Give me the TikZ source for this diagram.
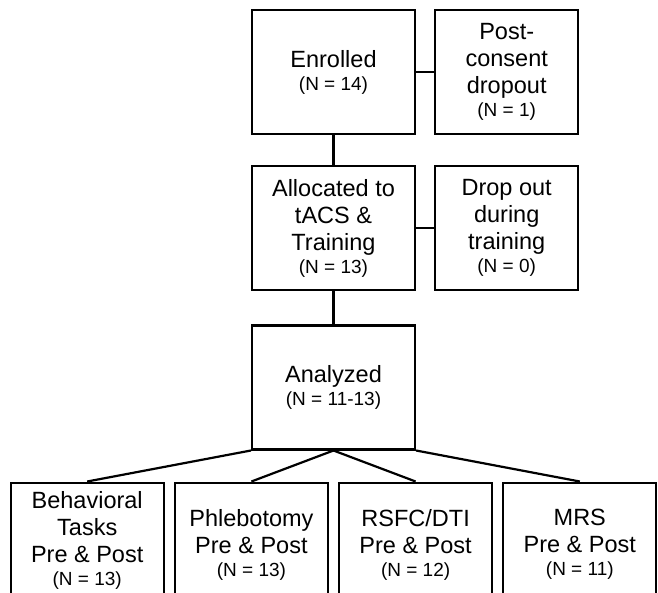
\documentclass[tikz,border=0pt]{standalone}
\usepackage{fontspec}
\setmainfont{Liberation Sans}
\usepackage{tikz}
\usetikzlibrary{positioning}
\newcommand{\nval}[1]{{\fontsize{19}{22}\selectfont (N = #1)}}

\begin{document}
\begin{tikzpicture}[node distance=18pt, line width=2.2pt,
    font=\fontsize{23.5}{27}\selectfont,
    box/.style={draw,minimum width=163pt,minimum height=124pt,align=center,inner sep=0pt},
    side/.style={box,minimum width=143pt},
    leaf/.style={box,minimum width=153pt}]
    \useasboundingbox (0,0) rectangle (658pt,-592pt);
    \clip (0,0) rectangle (658pt,-592pt);
    \node[box] (enrol) at (333.5pt,-72pt) {Enrolled\\[-4pt]\nval{14}};
    \node[side,right=of enrol] (post) {Post-\\consent\\dropout\\[-4pt]\nval{1}};
    \node[box,below=30pt of enrol] (alloc) {Allocated to\\tACS \&\\Training\\[-4pt]\nval{13}};
    \node[side,right=of alloc] (drop) {Drop out\\during\\training\\[-4pt]\nval{0}};
    \node[box,below=33pt of alloc] (anal) {Analyzed\\[-4pt]\nval{11-13}};
    \node[leaf,below left=31pt and 4.5pt of anal.south] (phleb) {Phlebotomy\\Pre \& Post\\[-4pt]\nval{13}};
    \node[leaf,minimum height=116pt,left=9pt of phleb.north west,anchor=north east] (behav) {Behavioral\\Tasks\\Pre \& Post\\[-4pt]\nval{13}};
    \node[leaf,below right=31pt and 4.5pt of anal.south] (rsfc) {RSFC/DTI\\Pre \& Post\\[-4pt]\nval{12}};
    \node[leaf,right=9pt of rsfc] (mrs) {MRS\\Pre \& Post\\[-4pt]\nval{11}};

    \draw (enrol) -- (post);
    \draw (enrol) -- (alloc);
    \draw (alloc) -- (drop);
    \draw (alloc) -- (anal);
    \draw (anal.south west) -- (behav.north);
    \draw (anal.south) -- (phleb.north);
    \draw (anal.south) -- (rsfc.north);
    \draw (anal.south east) -- (mrs.north);
  \end{tikzpicture}
\end{document}
